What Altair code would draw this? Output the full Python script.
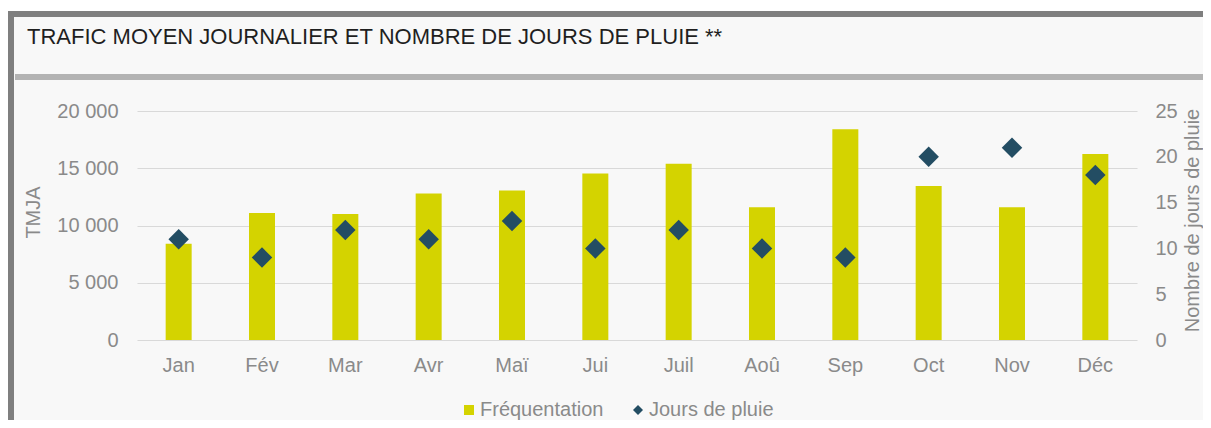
import altair as alt
import pandas as pd

months = ["Jan", "Fév", "Mar", "Avr", "Maï", "Jui", "Juil", "Aoû", "Sep", "Oct", "Nov", "Déc"]
frequentation = [8400, 11100, 11000, 12800, 13050, 14550, 15400, 11600, 18400, 13450, 11600, 16250]
jours_pluie = [11, 9, 12, 11, 13, 10, 12, 10, 9, 20, 21, 18]

series = ["Fréquentation", "Jours de pluie"]
colors = ["#d4d300", "#234d63"]
shapes = ["square", "diamond"]

df = pd.DataFrame({"mois": months, "tmja": frequentation, "pluie": jours_pluie})

FONT = "Liberation Sans, Arial, sans-serif"
GRAY = "#8a8a8a"

x_enc = alt.X(
    "mois:N",
    sort=months,
    scale=alt.Scale(paddingInner=0, paddingOuter=0),
    axis=alt.Axis(title=None, labelAngle=0, ticks=False, tickSize=0, domain=False,
                  labelPadding=15, labelFontSize=20, labelColor=GRAY, labelFont=FONT, grid=False),
)

color_scale = alt.Scale(domain=series, range=colors)
legend = alt.Legend(title=None, orient="none", legendX=322, legendY=289, direction="horizontal",
                    labelFontSize=20, labelColor=GRAY, labelFont=FONT, symbolSize=100,
                    labelOffset=1, columnPadding=24, symbolStrokeWidth=0)

bars = alt.Chart(df).transform_calculate(serie="'Fréquentation'").mark_bar(size=26).encode(
    x=x_enc,
    y=alt.Y("tmja:Q", scale=alt.Scale(domain=[0, 20000], nice=False),
            axis=alt.Axis(orient="left", title="TMJA", values=[0, 5000, 10000, 15000, 20000],
                          labelExpr="replace(format(datum.value, ','), ',', ' ')",
                          ticks=False, domain=False, labelPadding=19, labelFontSize=20,
                          labelColor=GRAY, labelFont=FONT, gridColor="#d9d9d9", gridWidth=1,
                          titleFontSize=20, titleFont=FONT, titleColor=GRAY, titleFontWeight="normal",
                          titleAngle=270, titleX=-98, titleY=101, titleBaseline="alphabetic",
                          titleAlign="center")),
    color=alt.Color("serie:N", scale=color_scale, legend=legend),
)

points = alt.Chart(df).transform_calculate(serie="'Jours de pluie'").mark_point(
    filled=True, size=420, opacity=1).encode(
    x=alt.X("mois:N", sort=months),
    y=alt.Y("pluie:Q", scale=alt.Scale(domain=[0, 25], nice=False),
            axis=alt.Axis(orient="right", title="Nombre de jours de pluie", values=[0, 5, 10, 15, 20, 25],
                          ticks=False, domain=False, grid=False, labelPadding=18, labelFontSize=20,
                          labelColor=GRAY, labelFont=FONT, titleFontSize=20, titleFont=FONT,
                          titleColor=GRAY, titleFontWeight="normal", titleAngle=270, titleX=61,
                          titleY=109, titleBaseline="alphabetic", titleAlign="center")),
    color=alt.Color("serie:N", scale=color_scale, legend=legend),
    shape=alt.Shape("serie:N", scale=alt.Scale(domain=series, range=shapes), legend=legend),
)

one = alt.Data(values=[{"k": 1}])


def deco(x1, x2, y1, y2, color):
    return alt.Chart(one).mark_rect(color=color).encode(
        x=alt.value(x1), x2=alt.value(x2), y=alt.value(y1), y2=alt.value(y2))


decos = [
    deco(-129, 1066, -103, -100, "#ffffff"),
    deco(-129, 1066, -100, -94, "#7f7f7f"),
    deco(-129, -123, -100, 309, "#7f7f7f"),
    deco(-122, 1066, -37, -31, "#b3b3b3"),
]

chart = alt.layer(*decos, bars, points).resolve_scale(y="independent").properties(
    width=1000,
    height=229,
    autosize=alt.AutoSizeParams(type="none"),
    padding={"left": 129, "top": 103, "right": 66, "bottom": 80},
    background="#f8f8f8",
    title=alt.TitleParams(
        "TRAFIC MOYEN JOURNALIER ET NOMBRE DE JOURS DE PLUIE **",
        anchor="start", frame="group", orient="top", fontSize=22, font=FONT,
        fontWeight="normal", color="#1f1f1f", dx=-110, dy=58, baseline="alphabetic", offset=0),
).configure_view(stroke=None)

chart.save("out.html", embed_options={"renderer": "svg", "actions": False})
